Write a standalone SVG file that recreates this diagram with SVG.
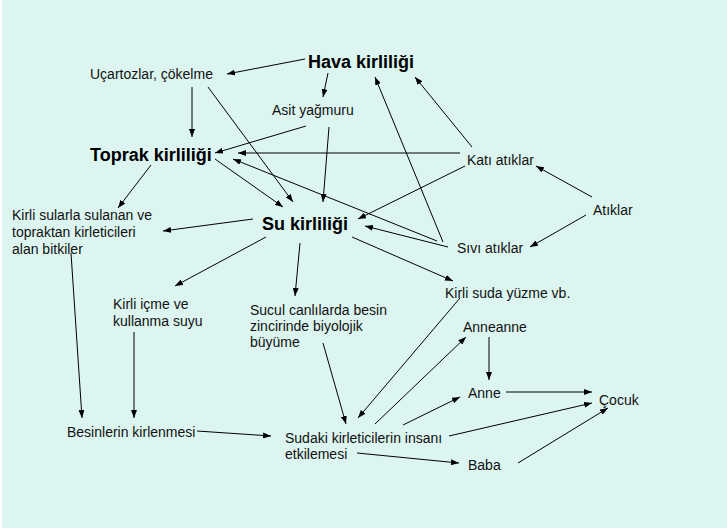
<svg xmlns="http://www.w3.org/2000/svg" width="727" height="530" viewBox="0 0 727 530">
<defs>
<marker id="ah" markerUnits="userSpaceOnUse" markerWidth="8" markerHeight="6" refX="8" refY="3" orient="auto">
<path d="M0,0 L8,3 L0,6 z" fill="#000"/>
</marker>
<style>
.t{font-family:"Liberation Sans",Arial,sans-serif;font-size:14px;fill:#111}
.b{font-family:"Liberation Sans",Arial,sans-serif;font-size:18px;font-weight:bold;fill:#000}
.c line{stroke:#000;stroke-width:1;marker-end:url(#ah)}
</style>
</defs>
<rect x="0" y="0" width="727" height="530" fill="#fff"/>
<rect x="2" y="0" width="725" height="528" fill="#DCF5F0"/>
<g class="c" id="connectors">
<line x1="305" y1="59" x2="227" y2="74"/>
<line x1="328" y1="73" x2="323" y2="97"/>
<line x1="192" y1="87" x2="192" y2="137"/>
<line x1="208" y1="87" x2="293" y2="202"/>
<line x1="306" y1="126" x2="215" y2="153"/>
<line x1="329" y1="127" x2="323" y2="202"/>
<line x1="460" y1="153" x2="238" y2="153"/>
<line x1="472" y1="147" x2="415" y2="77"/>
<line x1="443" y1="242" x2="375" y2="77"/>
<line x1="437" y1="241" x2="233" y2="159"/>
<line x1="448" y1="247" x2="365" y2="226"/>
<line x1="465" y1="166" x2="358" y2="219"/>
<line x1="592" y1="197" x2="536" y2="166"/>
<line x1="586" y1="215" x2="530" y2="247"/>
<line x1="215" y1="159" x2="283" y2="207"/>
<line x1="151" y1="165" x2="118" y2="208"/>
<line x1="253" y1="219" x2="163" y2="231"/>
<line x1="266" y1="237" x2="175" y2="286"/>
<line x1="300" y1="243" x2="295" y2="296"/>
<line x1="352" y1="237" x2="453" y2="281"/>
<line x1="71" y1="253" x2="82" y2="418"/>
<line x1="134" y1="332" x2="134" y2="418"/>
<line x1="323" y1="343" x2="346" y2="424"/>
<line x1="197" y1="431" x2="271" y2="436"/>
<line x1="460" y1="298" x2="358" y2="418"/>
<line x1="375" y1="424" x2="466" y2="337"/>
<line x1="403" y1="425" x2="460" y2="397"/>
<line x1="449" y1="436" x2="592" y2="403"/>
<line x1="357" y1="453" x2="459" y2="463"/>
<line x1="489" y1="337" x2="489" y2="380"/>
<line x1="506" y1="392" x2="592" y2="392"/>
<line x1="518" y1="463" x2="608" y2="408"/>
</g>
<g id="hava"><text class="b" x="308" y="68">Hava kirliliği</text></g>
<g id="ucartozlar"><text class="t" x="90" y="79">Uçartozlar, çökelme</text></g>
<g id="asit"><text class="t" x="272" y="115">Asit yağmuru</text></g>
<g id="toprak"><text class="b" x="90" y="161">Toprak kirliliği</text></g>
<g id="kati"><text class="t" x="467" y="165">Katı atıklar</text></g>
<g id="atiklar"><text class="t" x="593" y="215">Atıklar</text></g>
<g id="sivi"><text class="t" x="457" y="253">Sıvı atıklar</text></g>
<g id="su"><text class="b" x="262" y="230">Su kirliliği</text></g>
<g id="bitkiler"><text class="t" x="12" y="220">Kirli sularla sulanan ve</text><text class="t" x="12" y="237">topraktan kirleticileri</text><text class="t" x="12" y="254">alan bitkiler</text></g>
<g id="icme"><text class="t" x="113" y="309">Kirli içme ve</text><text class="t" x="113" y="326">kullanma suyu</text></g>
<g id="sucul"><text class="t" x="250" y="315">Sucul canlılarda besin</text><text class="t" x="250" y="331">zincirinde biyolojik</text><text class="t" x="250" y="347">büyüme</text></g>
<g id="yuzme"><text class="t" x="445" y="298">Kirli suda yüzme vb.</text></g>
<g id="anneanne"><text class="t" x="463" y="332">Anneanne</text></g>
<g id="anne"><text class="t" x="468" y="398">Anne</text></g>
<g id="cocuk"><text class="t" x="599" y="405">Çocuk</text></g>
<g id="baba"><text class="t" x="468" y="470">Baba</text></g>
<g id="besinler"><text class="t" x="67" y="437">Besinlerin kirlenmesi</text></g>
<g id="sudaki"><text class="t" x="285" y="443">Sudaki kirleticilerin insanı</text><text class="t" x="285" y="459">etkilemesi</text></g>
</svg>
